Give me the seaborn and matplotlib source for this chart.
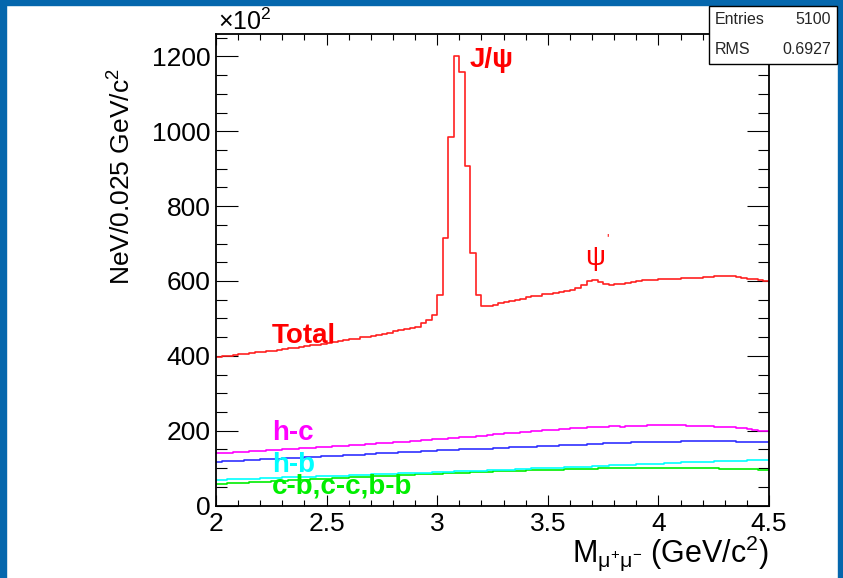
import numpy as np
import matplotlib
matplotlib.use("Agg")
import matplotlib.pyplot as plt
import seaborn as sns
from matplotlib.patches import Rectangle
from matplotlib.ticker import MultipleLocator

# ---------------- data ----------------
bin_edges = np.linspace(2.0, 4.5, 101)   # 0.025 GeV/c^2 bins

total = [397, 399, 400, 402, 404, 405, 407, 409, 411, 412,
         414, 416, 418, 420, 422, 424, 426, 428, 430, 432,
         434, 437, 439, 441, 444, 446, 449, 451, 454, 456,
         459, 462, 465, 468, 471, 474, 478, 488, 496, 509,
         563, 715, 984, 1201, 1159, 908, 675, 563, 534, 532,
         536, 540, 544, 547, 550, 553, 556, 559, 561, 564,
         566, 568, 570, 572, 575, 582, 590, 600, 603, 598,
         592, 590, 591, 593, 595, 597, 600, 602, 603, 603,
         604, 605, 605, 606, 607, 607, 608, 609, 610, 611,
         612, 613, 613, 612, 611, 609, 606, 604, 602, 601]

h_c = [140, 141, 141, 142, 143, 144, 145, 145, 146, 147,
       148, 149, 150, 151, 152, 153, 153, 154, 155, 156,
       157, 158, 159, 160, 161, 162, 163, 164, 165, 166,
       167, 168, 169, 170, 171, 172, 173, 175, 176, 177,
       178, 179, 180, 181, 182, 183, 184, 185, 186, 188,
       190, 191, 193, 194, 195, 196, 197, 199, 200, 201,
       202, 203, 204, 205, 206, 207, 208, 209, 210, 211,
       211, 212, 212, 211, 212, 213, 213, 213, 214, 214,
       214, 214, 215, 214, 214, 213, 213, 213, 212, 212,
       211, 211, 210, 209, 207, 206, 204, 202, 200, 198]

h_b_blue = [117, 118, 118, 119, 120, 121, 121, 122, 123, 124,
            124, 125, 126, 127, 127, 128, 129, 130, 130, 131,
            132, 133, 133, 134, 135, 136, 136, 137, 138, 139,
            139, 140, 141, 142, 142, 143, 144, 145, 145, 146,
            147, 148, 148, 149, 150, 150, 151, 151, 152, 152,
            153, 153, 154, 155, 155, 156, 157, 157, 158, 159,
            159, 160, 161, 161, 162, 163, 163, 164, 165, 165,
            166, 167, 167, 168, 168, 169, 169, 170, 170, 170,
            171, 171, 171, 171, 172, 172, 172, 172, 172, 172,
            172, 172, 172, 172, 171, 171, 171, 171, 170, 170]

h_b = [69, 69, 70, 70, 71, 71, 72, 72, 73, 73,
       74, 74, 75, 75, 76, 76, 77, 77, 78, 78,
       79, 79, 80, 80, 81, 81, 82, 82, 83, 83,
       84, 84, 85, 86, 86, 87, 87, 88, 88, 89,
       89, 90, 90, 91, 91, 92, 92, 93, 93, 94,
       94, 95, 96, 96, 97, 97, 98, 99, 99, 100,
       100, 101, 101, 102, 103, 103, 104, 104, 105, 106,
       106, 107, 107, 108, 109, 109, 110, 110, 111, 112,
       112, 113, 113, 114, 115, 115, 116, 116, 117, 117,
       118, 118, 119, 119, 120, 120, 121, 121, 122, 122]

cb_cc_bb = [57, 58, 59, 59, 60, 61, 62, 62, 63, 64,
            65, 65, 66, 67, 68, 68, 69, 70, 71, 71,
            72, 73, 74, 74, 75, 76, 76, 77, 78, 78,
            79, 80, 80, 81, 82, 82, 83, 84, 84, 85,
            85, 86, 87, 87, 88, 88, 89, 89, 90, 90,
            91, 91, 92, 92, 93, 93, 94, 94, 95, 95,
            95, 96, 96, 97, 97, 97, 98, 98, 98, 99,
            99, 99, 99, 100, 100, 100, 100, 100, 100, 100,
            100, 100, 100, 100, 100, 100, 99, 99, 99, 99,
            99, 98, 98, 98, 98, 97, 97, 97, 96, 96]

x_ticks = [2, 2.5, 3, 3.5, 4, 4.5]
x_tick_labels = ["2", "2.5", "3", "3.5", "4", "4.5"]
y_ticks = [0, 200, 400, 600, 800, 1000, 1200]
y_tick_labels = ["0", "200", "400", "600", "800", "1000", "1200"]

stat_names = ["Entries", "RMS"]
stat_values = ["5100", "0.6927"]

# ---------------- style ----------------
sns.set_theme(style="white")
plt.rcParams['font.family'] = ['Liberation Sans', 'DejaVu Sans']
plt.rcParams['mathtext.fontset'] = 'custom'
plt.rcParams['mathtext.rm'] = 'Liberation Sans'
plt.rcParams['mathtext.it'] = 'Liberation Sans:italic'
plt.rcParams['mathtext.bf'] = 'Liberation Sans:bold'

W, H = 843, 578
fig = plt.figure(figsize=(W / 100, H / 100), dpi=100)
fig.patch.set_facecolor("white")

# blue frame
blue = "#0567AD"
fig.patches.append(Rectangle((0, 0), 6 / W, 1, transform=fig.transFigure, color=blue, zorder=0))
fig.patches.append(Rectangle((0, 1 - 5 / H), 1, 5 / H, transform=fig.transFigure, color=blue, zorder=0))
fig.patches.append(Rectangle((838 / W, 0), 5 / W, 1, transform=fig.transFigure, color=blue, zorder=0))

ax_l, ax_r, ax_t, ax_b = 216, 769, 34, 505.5
ax = fig.add_axes([ax_l / W, 1 - ax_b / H, (ax_r - ax_l) / W, (ax_b - ax_t) / H])
ax.set_facecolor("white")

series = [(cb_cc_bb, "#00EE00"), (h_b, "#00FFFF"), (h_b_blue, "#3030FF"),
          (h_c, "#FF00FF"), (total, "#FF2020")]
for vals, col in series:
    heights = np.append(np.asarray(vals, dtype=float), vals[-1])
    sns.lineplot(x=bin_edges, y=heights, drawstyle="steps-post", estimator=None,
                 sort=False, color=col, linewidth=1.2, ax=ax)

ax.set_xlim(2, 4.5)
ax.set_ylim(0, 1260)
ax.set_xticks(x_ticks)
ax.set_xticklabels(x_tick_labels)
ax.set_yticks(y_ticks)
ax.set_yticklabels(y_tick_labels)
ax.xaxis.set_minor_locator(MultipleLocator(0.1))
ax.yaxis.set_minor_locator(MultipleLocator(50))

for s in ax.spines.values():
    s.set_visible(True)
    s.set_color("black")
    s.set_linewidth(1.3)

ax.tick_params(axis="x", which="major", direction="in", length=7.9, width=0.8,
               top=True, bottom=True, labelsize=19, pad=4.5, color="black", labelcolor="black")
ax.tick_params(axis="x", which="minor", direction="in", length=4, width=0.8,
               top=True, bottom=True, color="black")
ax.tick_params(axis="y", which="major", direction="in", length=15.8, width=0.8,
               left=True, right=True, labelsize=19, pad=4, color="black", labelcolor="black")
ax.tick_params(axis="y", which="minor", direction="in", length=7.9, width=0.8,
               left=True, right=True, color="black")

ax.set_ylabel("NeV/0.025 GeV/c$^{2}$", fontsize=19, color="black")
ax.yaxis.label.set_ha("right")
ax.yaxis.set_label_coords(-0.145, 0.928)
ax.set_xlabel("M$_{\\mathrm{μ^{+}μ^{-}}}$ (GeV/c$^{2}$)", fontsize=22, color="black")
ax.xaxis.label.set_ha("right")
ax.xaxis.label.set_va("baseline")
ax.xaxis.set_label_coords(1.0, -0.1198)

ax.text(0.003, 1.0085, "×10$^{2}$", transform=ax.transAxes, ha="left", va="baseline",
        fontsize=18, color="black")

# annotations
ax.text(3.713, 661, "ψ", color="#FF0000", fontsize=20, ha="center", va="center")
ax.text(3.772, 712, "'", color="#FF0000", fontsize=9, ha="center", va="center")
ax.text(3.148, 1190, "J/ψ", color="#FF0000", fontsize=20, fontweight="bold", ha="left", va="center")
ax.text(2.253, 453, "Total", color="#FF0000", fontsize=20, fontweight="bold", ha="left", va="center")
ax.text(2.253, 194, "h-c", color="#FF00FF", fontsize=20, fontweight="bold", ha="left", va="center")
ax.text(2.253, 107, "h-b", color="#00FFFF", fontsize=20, fontweight="bold", ha="left", va="center")
ax.text(2.253, 50, "c-b,c-c,b-b", color="#00EE00", fontsize=20, fontweight="bold", ha="left", va="center")

# statistics box
fig.patches.append(Rectangle((709 / W, 1 - 64 / H), 128 / W, 58 / H, transform=fig.transFigure,
                             facecolor="white", edgecolor="black", linewidth=1.0, zorder=5))
fig.text(715 / W, 1 - 20 / H, stat_names[0], fontsize=11.5, ha="left", va="center", zorder=6)
fig.text(831 / W, 1 - 20 / H, stat_values[0], fontsize=11.5, ha="right", va="center", zorder=6)
fig.text(715 / W, 1 - 49 / H, stat_names[1], fontsize=11.5, ha="left", va="center", zorder=6)
fig.text(831 / W, 1 - 49 / H, stat_values[1], fontsize=11.5, ha="right", va="center", zorder=6)

fig.savefig("out.png", dpi=100)
